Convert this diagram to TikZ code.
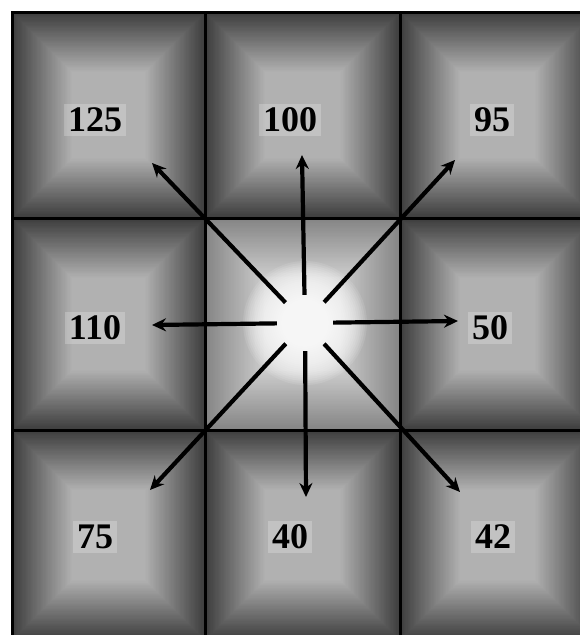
\documentclass[tikz,border=0pt]{standalone}
\usepackage{fontspec}
\setmainfont{Liberation Serif}
\usepackage{tikz}
\usetikzlibrary{positioning,arrows.meta,calc}
\definecolor{ink}{RGB}{0,0,0}
\definecolor{paper}{RGB}{255,255,255}
\tikzset{
  gridline/.style={draw=ink, line width=3pt},
  cost/.style={font=\fontsize{36}{36}\selectfont\bfseries, text=ink, fill=paper,
    fill opacity=0.22, text opacity=1, inner sep=4pt},
  src/.style={circle, minimum size=56pt, inner sep=0pt},
  flow/.style={-{Stealth[length=14pt,width=13pt]}, line width=4.2pt, draw=ink},
}
\begin{document}
\begin{tikzpicture}[x=1pt,y=-1pt]
  \useasboundingbox (0,0) rectangle (580,635);
  \fill[paper] (0,0) rectangle (580,635);
  \clip (0,0) rectangle (580,635);
  % outer cells: dark rim, light middle
  \foreach \xa/\xb/\ya/\yb in {12/205/12/218, 205/400/12/218, 400/595/12/218,
      12/205/218/430, 400/595/218/430,
      12/205/430/640, 205/400/430/640, 400/595/430/640}{
    \foreach \i in {0,...,48}{
      \pgfmathsetmacro\shadepct{76-0.95*\i}
      \fill[black!\shadepct] (\xa+1.25*\i,\ya+1.25*\i) rectangle (\xb-1.25*\i,\yb-1.25*\i);
    }
  }
  % centre cell
  \foreach \i in {0,...,48}{
    \pgfmathsetmacro\shadepct{48-0.6*\i}
    \fill[black!\shadepct] (205+1.25*\i,218+1.25*\i) rectangle (400-1.25*\i,430-1.25*\i);
  }
  \node[src] (src) at (305,323) {};
  \foreach \r in {62,60,...,2}
    \fill[paper, opacity=0.1] (src.center) circle (\r);
  % grid
  \draw[gridline] (12,12) rectangle (595,640);
  \draw[gridline] (205,12) -- (205,640);
  \draw[gridline] (400,12) -- (400,640);
  \draw[gridline] (12,218) -- (595,218);
  \draw[gridline] (12,430) -- (595,430);
  % costs
  \node[cost] (nw) at (95,120) {125};
  \node[cost] (n)  at (290,120) {100};
  \node[cost] (ne) at (492,120) {95};
  \node[cost] (w)  at (95,328) {110};
  \node[cost] (e)  at (490,328) {50};
  \node[cost] (sw) at (95,537) {75};
  \node[cost] (s)  at (290,537) {40};
  \node[cost] (se) at (493,537) {42};
  % arrow tips
  \coordinate (tn)  at (302,155);
  \coordinate (ts)  at (306,497);
  \coordinate (tw)  at (152,325);
  \coordinate (te)  at (458,321);
  \coordinate (tnw) at (152,163);
  \coordinate (tne) at (455,160);
  \coordinate (tsw) at (150,490);
  \coordinate (tse) at (460,492);
  \foreach \t in {tn,ts,tw,te,tnw,tne,tsw,tse}
    \draw[flow] (src) -- (\t);
\end{tikzpicture}
\end{document}
